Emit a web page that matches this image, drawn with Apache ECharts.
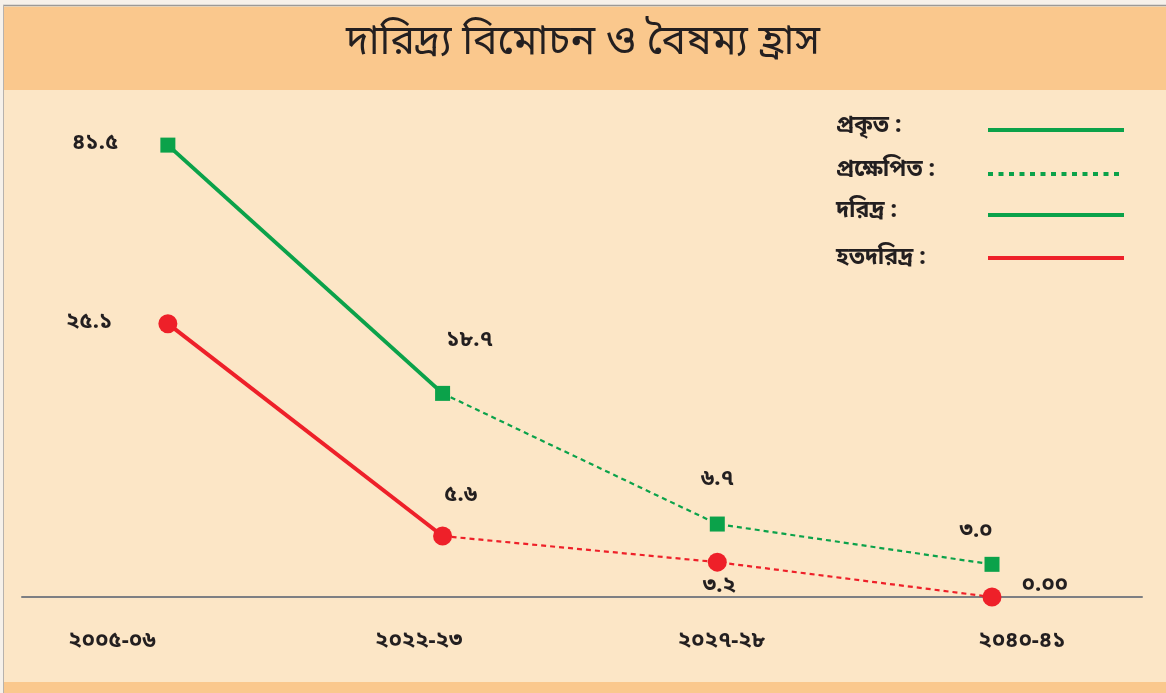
<!DOCTYPE html>
<html>
<head>
<meta charset="utf-8">
<script src="https://cdn.jsdelivr.net/npm/echarts@6/dist/echarts.min.js"></script>
<style>
  html, body { margin: 0; padding: 0; background: #fce6c6; }
  #chart { width: 1166px; height: 693px; }
</style>
</head>
<body>
<div id="chart"></div>
<script>
// data
const years = ['২০০৫-০৬', '২০২২-২৩', '২০২৭-২৮', '২০৪০-৪১']
const poorActual = [41.5, 18.7, null, null]
const poorProjected = [null, 18.7, 6.7, 3.0]
const extremeActual = [25.1, 5.6, null, null]
const extremeProjected = [null, 5.6, 3.2, 0.0]
const poorLabels = ['৪১.৫', '১৮.৭', '৬.৭', '৩.০']
const extremeLabels = ['২৫.১', '৫.৬', '৩.২', '০.০০']
const legendNames = ['প্রকৃত :', 'প্রক্ষেপিত :', 'দরিদ্র :', 'হতদরিদ্র :']
const titleText = 'দারিদ্র্য বিমোচন ও বৈষম্য হ্রাস'

const GREEN = '#0ba24a'
const RED = '#ee2029'
const FONT = '"Noto Sans Bengali", "Noto Sans", sans-serif'

const toPairs = arr => arr.map((v, i) => v == null ? [i, null] : [i, v])

// where the year labels sit (they are shifted from the points in the original)
const yearLabelAt = [-0.204, 0.913, 2.015, 3.109]

// label placement per point
const poorLabelPos = [
    { position: 'left', distance: 42 },
    { position: 'top', offset: [27, -28] },
    { position: 'top', offset: [0, -20] },
    { position: 'top', offset: [-16, -8] }
]
const extremeLabelPos = [
    { position: 'left', distance: 46 },
    { position: 'top', offset: [18, -14] },
    { position: 'bottom', offset: [2, 0] },
    { position: 'right', distance: 20, offset: [0, -10] }
]

const withLabels = (vals, texts, pos) => vals.map((v, i) => {
    if (v == null) return [i, null]
    return {
        value: [i, v],
        label: Object.assign({ show: true, formatter: texts[i] }, pos[i])
    }
})

const labelStyle = {
    color: '#231f20',
    fontSize: 22,
    fontWeight: 'bold',
    fontFamily: FONT
}

const chart = echarts.init(document.getElementById('chart'))

const legendGraphics = []
const legendY = [130, 174, 215, 258]
const legendStyles = [
    { color: GREEN, dash: null },
    { color: GREEN, dash: [5, 5.5] },
    { color: GREEN, dash: null },
    { color: RED, dash: null }
]
legendNames.forEach((name, i) => {
    legendGraphics.push({
        type: 'text',
        left: 836,
        top: legendY[i] - 14 + (i === 3 ? 4 : 0),
        style: { text: name, fill: '#231f20', font: 'bold 23px ' + FONT }
    })
    legendGraphics.push({
        type: 'line',
        shape: { x1: 988, y1: legendY[i], x2: 1124, y2: legendY[i] },
        style: {
            stroke: legendStyles[i].color,
            lineWidth: 4,
            lineDash: legendStyles[i].dash
        }
    })
})

chart.setOption({
    backgroundColor: '#fce6c6',
    animation: false,
    graphic: [
        { type: 'rect', shape: { x: 0, y: 0, width: 1166, height: 6 }, style: { fill: '#f6f1ea' } },
        { type: 'line', shape: { x1: 0, y1: 5.5, x2: 1166, y2: 5.5 }, style: { stroke: '#9c9a98', lineWidth: 1.5 } },
        { type: 'rect', shape: { x: 0, y: 0, width: 3, height: 693 }, style: { fill: '#f6f1ea' } },
        { type: 'line', shape: { x1: 3.5, y1: 5, x2: 3.5, y2: 693 }, style: { stroke: '#b7b2ad', lineWidth: 1 } },
        { type: 'rect', shape: { x: 4, y: 7, width: 1162, height: 83 }, style: { fill: '#fac88d' } },
        { type: 'rect', shape: { x: 4, y: 682, width: 1162, height: 11 }, style: { fill: '#fac88d' } },
        {
            type: 'text',
            left: 'center',
            top: 26,
            style: { text: titleText, fill: '#231f20', font: '41px ' + FONT }
        }
    ].concat(legendGraphics),
    grid: {
        left: 22,
        right: 24,
        top: 107,
        bottom: 96
    },
    xAxis: {
        type: 'value',
        min: -0.531,
        max: 3.546,
        splitLine: { show: false },
        axisTick: { show: false },
        axisLine: { show: true, onZero: false, lineStyle: { color: '#7d7f83', width: 2 } },
        axisLabel: {
            customValues: yearLabelAt,
            formatter: v => years[Math.round(v)],
            margin: 35,
            color: '#231f20',
            fontSize: 22,
            fontWeight: 'bold',
            fontFamily: FONT
        }
    },
    yAxis: {
        type: 'value',
        min: 0,
        max: 45,
        show: false,
        splitLine: { show: false }
    },
    series: [
        {
            name: 'poor-actual',
            type: 'line',
            data: withLabels(poorActual, poorLabels, poorLabelPos),
            symbol: 'rect',
            symbolSize: 15,
            lineStyle: { color: GREEN, width: 4 },
            itemStyle: { color: GREEN },
            label: labelStyle,
            z: 4
        },
        {
            name: 'poor-projected',
            type: 'line',
            data: withLabels(poorProjected.map((v, i) => i === 1 ? null : v), poorLabels, poorLabelPos),
            symbol: 'rect',
            symbolSize: 15,
            lineStyle: { width: 0 },
            itemStyle: { color: GREEN },
            label: labelStyle,
            z: 4
        },
        {
            name: 'poor-projected-line',
            type: 'line',
            data: toPairs(poorProjected),
            showSymbol: false,
            lineStyle: { color: GREEN, width: 2.2, type: [5, 4] },
            z: 3
        },
        {
            name: 'extreme-actual',
            type: 'line',
            data: withLabels(extremeActual, extremeLabels, extremeLabelPos),
            symbol: 'circle',
            symbolSize: 19,
            lineStyle: { color: RED, width: 4 },
            itemStyle: { color: RED },
            label: labelStyle,
            z: 4
        },
        {
            name: 'extreme-projected',
            type: 'line',
            data: withLabels(extremeProjected.map((v, i) => i === 1 ? null : v), extremeLabels, extremeLabelPos),
            symbol: 'circle',
            symbolSize: 19,
            lineStyle: { width: 0 },
            itemStyle: { color: RED },
            label: labelStyle,
            z: 4
        },
        {
            name: 'extreme-projected-line',
            type: 'line',
            data: toPairs(extremeProjected),
            showSymbol: false,
            lineStyle: { color: RED, width: 2.2, type: [5, 4] },
            z: 3
        }
    ]
})
</script>
</body>
</html>
